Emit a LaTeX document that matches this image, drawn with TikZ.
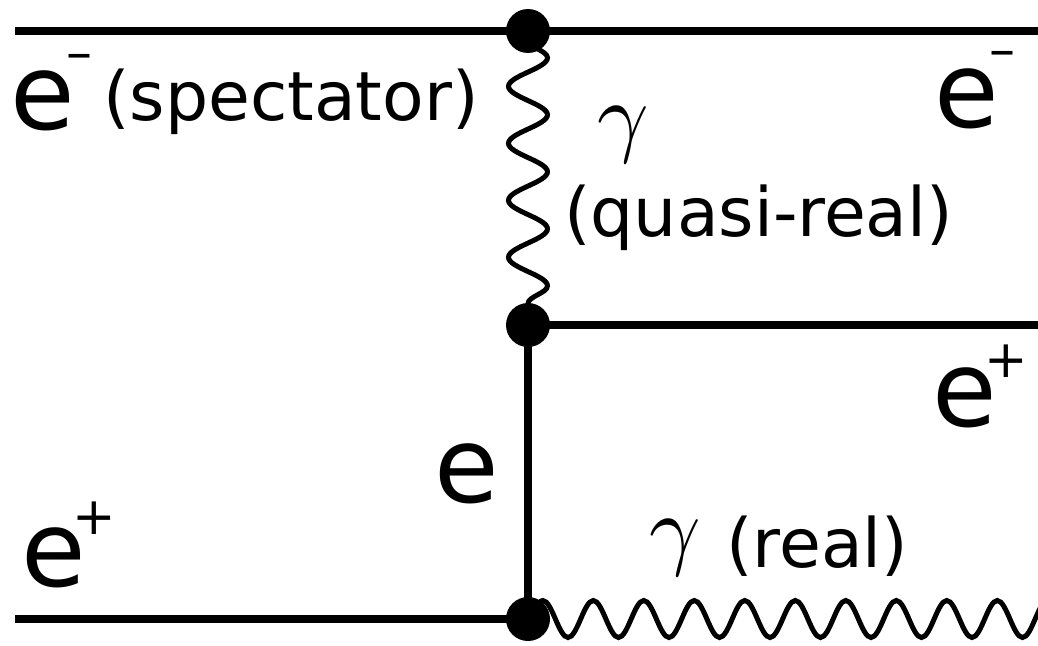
\documentclass[tikz,border=0pt]{standalone}
\usepackage{fontspec}
\setmainfont{DejaVu Sans}
\usetikzlibrary{decorations.pathmorphing}
\begin{document}
\begin{tikzpicture}[x=1pt,y=-1pt,
  line/.style={line width=8.5pt,black},
  vertexdot/.style={circle,fill=black,inner sep=0pt,minimum size=44pt},
  wavyv/.style={black,line width=5pt,decorate,decoration={snake,amplitude=19.5pt,segment length=57pt}},
  wavyh/.style={black,line width=5pt,decorate,decoration={snake,amplitude=18.5pt,segment length=50.5pt}},
  lab/.style={inner sep=0pt,anchor=base west,font=\fontsize{105}{105}\selectfont},
  sup/.style={inner sep=0pt,anchor=base west,font=\fontsize{52}{52}\selectfont},
  small/.style={inner sep=0pt,anchor=base west,font=\fontsize{68}{68}\selectfont},
  gam/.style={inner sep=0pt,anchor=base west,scale=9}]
\useasboundingbox (0,0) rectangle (1038,645);
\clip (0,0) rectangle (1038,645);
\coordinate (a1) at (15,31); \coordinate (a2) at (1038,31);
\coordinate (b2) at (1038,325);
\coordinate (c1) at (15,619); \coordinate (c2) at (1082.5,619);
\coordinate (w1) at (528,40); \coordinate (w2) at (528,325);
\coordinate (w3) at (527,619);
\node[vertexdot] (v1) at (528,31) {};
\node[vertexdot] (v2) at (528,325) {};
\node[vertexdot] (v3) at (528,619) {};
\draw[line] (a1) -- (v1.center) -- (a2);
\draw[line] (v2.center) -- (b2);
\draw[line] (c1) -- (v3.center);
\draw[line] (v2.center) -- (v3.center);
\draw[wavyv] (w1) -- (w2);
\draw[wavyh] (w3) -- (c2);
\node[lab] (t1) at (10.5,129) {e};
\node[sup] (t1s) at (66,70) {–};
\node[small] (t2) at (103,120.5) {(spectator)};
\node[lab] (t3) at (934,127) {e};
\node[sup] (t3s) at (989,67) {–};
\node[gam] (t4) at (596,145) {$\gamma$};
\node[small] (t5) at (564,236.5) {(quasi-real)};
\node[lab] (t6) at (932.5,426) {e};
\node[sup] (t6s) at (984.5,377) {+};
\node[lab] (t7) at (434,502) {e};
\node[lab] (t8) at (21.5,586) {e};
\node[sup] (t8s) at (72,534) {+};
\node[gam] (t9) at (648,558) {$\gamma$};
\node[small] (t10) at (726,567) {(real)};
\end{tikzpicture}
\end{document}
